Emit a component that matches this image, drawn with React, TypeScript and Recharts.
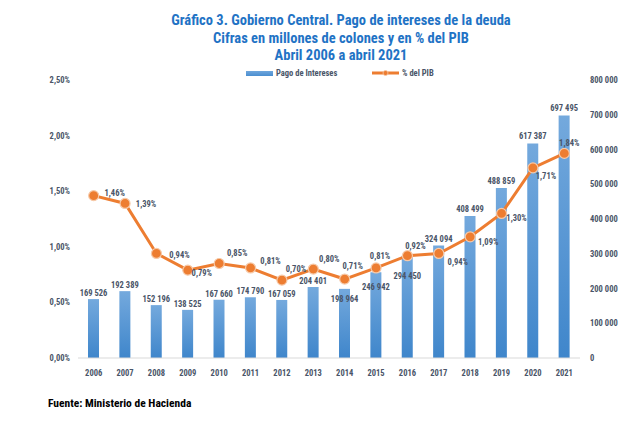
import React from 'react';
import {
  ComposedChart,
  Bar,
  Line,
  XAxis,
  YAxis,
  LabelList,
} from 'recharts';

const years = ['2006', '2007', '2008', '2009', '2010', '2011', '2012', '2013', '2014', '2015', '2016', '2017', '2018', '2019', '2020', '2021'];
const pagoIntereses = [169526, 192389, 152196, 138525, 167660, 174790, 167059, 204401, 198964, 246942, 294450, 324094, 408499, 488859, 617387, 697495];
const pctPib = [1.46, 1.39, 0.94, 0.79, 0.85, 0.81, 0.7, 0.8, 0.71, 0.81, 0.92, 0.94, 1.09, 1.3, 1.71, 1.84];
const leftTicks = [0, 0.5, 1, 1.5, 2, 2.5];
const rightTicks = [0, 100000, 200000, 300000, 400000, 500000, 600000, 700000, 800000];

const data = years.map((year, i) => ({
  year,
  pago: pagoIntereses[i],
  pct: pctPib[i],
}));

const FONT = '"Liberation Sans Narrow", "Roboto Condensed", "Liberation Sans", Arial, sans-serif';
const BLUE_TITLE = '#1f73c5';
const ORANGE = '#ed7d31';
const TEXT = '#4a5568';

const fmtMiles = (v: number) => String(v).replace(/\B(?=(\d{3})+(?!\d))/g, ' ');
const fmtPct = (v: number) => v.toFixed(2).replace('.', ',') + '%';

// label placement tweaks (Excel moved some labels off the line)
const pctOffsets: [number, number][] = [
  [21, -3], [21, 1], [23, 2], [14, 3], [18, -10], [20, -7], [14, -11], [16, -10],
  [8, -13], [4, -12], [8, -10], [19, 9], [18, 5], [15, 5], [13, 8], [5, -10],
];
const barOffsets = [-6, -6, -6, -6, -6, -6, -6, -6, 10, 15, 20, -6, -7, -7, -7, -8];

function PctLabel(props: any) {
  const { x, y, value, index } = props;
  const [dx, dy] = pctOffsets[index] || [0, -10];
  return (
    <text x={x + dx} y={y + dy} textAnchor="middle" dominantBaseline="central" fontSize={8.5} fill={TEXT} fontFamily={FONT} fontWeight={700}>
      {fmtPct(value)}
    </text>
  );
}

function BarLabel(props: any) {
  const { x, y, width, value, index } = props;
  const dy = barOffsets[index] ?? -6;
  return (
    <text x={x + width / 2} y={y + dy} textAnchor="middle" dominantBaseline="central" fontSize={8.5} fill={TEXT} fontFamily={FONT} fontWeight={700}>
      {fmtMiles(value)}
    </text>
  );
}

function Dot(props: any) {
  const { cx, cy } = props;
  return <circle cx={cx} cy={cy} r={5} fill={ORANGE} stroke="#f6c9a8" strokeWidth={1.2} />;
}

export default function App() {
  return (
    <div style={{ position: 'absolute', left: 0, top: 0, width: 636, height: 427, background: '#fff', fontFamily: FONT }}>
      <div style={{ position: 'absolute', left: 0, top: 12, width: 682, textAlign: 'center', color: BLUE_TITLE, fontWeight: 700, fontSize: 14.5, lineHeight: '17.5px' }}>
        <div>Gráfico 3. Gobierno Central. Pago de intereses de la deuda</div>
        <div>Cifras en millones de colones y en % del PIB</div>
        <div>Abril 2006 a abril 2021</div>
      </div>
      <div style={{ position: 'absolute', left: 246, top: 68, display: 'flex', alignItems: 'center', fontSize: 8.5, color: TEXT, fontWeight: 700 }}>
        <span style={{ display: 'inline-block', width: 27, height: 5, background: 'linear-gradient(#6fa6dc, #4a8ed0)', marginRight: 3 }} />
        <span style={{ width: 96 }}>Pago de Intereses</span>
        <svg width={28} height={10} style={{ marginRight: 2 }}>
          <line x1={0} y1={5} x2={27} y2={5} stroke={ORANGE} strokeWidth={3} />
          <circle cx={13.5} cy={5} r={2.5} fill={ORANGE} stroke="#f6c9a8" strokeWidth={0.8} />
        </svg>
        <span>% del PIB</span>
      </div>
      <ComposedChart
        width={636}
        height={390}
        data={data}
        margin={{ top: 80, right: 0, left: 0, bottom: 2 }}
        style={{ position: 'absolute', left: 0, top: 0 }}
      >
        <defs>
          <linearGradient id="barGrad" x1="0" y1="0" x2="0" y2="1">
            <stop offset="0%" stopColor="#74a9dd" />
            <stop offset="100%" stopColor="#3f86cb" />
          </linearGradient>
        </defs>
        <XAxis
          dataKey="year"
          axisLine={{ stroke: '#d9d9d9' }}
          tickLine={false}
          height={30}
          tickMargin={6}
          tick={{ fontSize: 8.5, fill: TEXT, fontFamily: FONT, fontWeight: 700 }}
          interval={0}
        />
        <YAxis
          yAxisId="left"
          domain={[0, 2.5]}
          ticks={leftTicks}
          width={78}
          axisLine={false}
          tickLine={false}
          tickSize={0}
          tickMargin={8}
          tickFormatter={fmtPct}
          tick={{ fontSize: 8.5, fill: TEXT, fontFamily: FONT, fontWeight: 700 }}
        />
        <YAxis
          yAxisId="right"
          orientation="right"
          domain={[0, 800000]}
          ticks={rightTicks}
          width={56}
          axisLine={false}
          tickLine={false}
          tickSize={0}
          tickMargin={10}
          tickFormatter={fmtMiles}
          tick={{ fontSize: 8.5, fill: TEXT, fontFamily: FONT, fontWeight: 700 }}
        />
        <Bar yAxisId="right" dataKey="pago" fill="url(#barGrad)" barSize={11} isAnimationActive={false}>
          <LabelList dataKey="pago" content={<BarLabel />} />
        </Bar>
        <Line
          yAxisId="left"
          dataKey="pct"
          stroke={ORANGE}
          strokeWidth={3}
          dot={<Dot />}
          activeDot={false}
          isAnimationActive={false}
        >
          <LabelList dataKey="pct" content={<PctLabel />} />
        </Line>
      </ComposedChart>
      <div style={{ position: 'absolute', left: 48, top: 396, fontSize: 11.5, fontWeight: 700, color: '#000' }}>
        Fuente: Ministerio de Hacienda
      </div>
    </div>
  );
}
